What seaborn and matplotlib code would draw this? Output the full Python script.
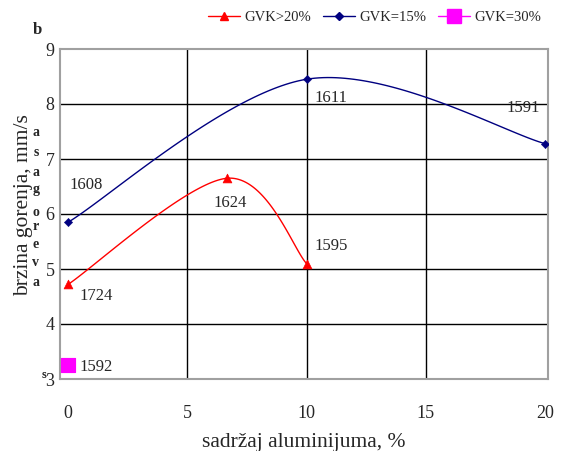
import numpy as np
import pandas as pd
import matplotlib
matplotlib.use("Agg")
import matplotlib.pyplot as plt
import seaborn as sns

# ---- data ----
x_gvk20 = [0, 6.67, 10]
y_gvk20 = [4.72, 6.65, 5.10]
lab_gvk20 = ["1724", "1624", "1595"]

x_gvk15 = [0, 10, 20]
y_gvk15 = [5.85, 8.45, 7.28]
lab_gvk15 = ["1608", "1611", "1591"]

x_gvk30 = [0]
y_gvk30 = [3.25]
lab_gvk30 = ["1592"]

series_names = ["GVK>20%", "GVK=15%", "GVK=30%"]
x_ticks = [0, 5, 10, 15, 20]
y_ticks = [3, 4, 5, 6, 7, 8, 9]

sns.set_style("white")
plt.rcParams["font.family"] = ["Liberation Serif", "DejaVu Serif"]


def smooth(xs, ys, n=60):
    """Excel-style smoothed line (Catmull-Rom Bezier) through given points."""
    P = np.column_stack([xs, ys]).astype(float)
    if len(P) < 2:
        return P[:, 0], P[:, 1]
    out = []
    for i in range(len(P) - 1):
        p0 = P[i - 1] if i > 0 else P[i]
        p1, p2 = P[i], P[i + 1]
        p3 = P[i + 2] if i + 2 < len(P) else P[i + 1]
        c1 = p1 + (p2 - p0) / 6.0
        c2 = p2 - (p3 - p1) / 6.0
        t = np.linspace(0, 1, n)[:, None]
        seg = ((1 - t) ** 3) * p1 + 3 * ((1 - t) ** 2) * t * c1 + 3 * (1 - t) * t ** 2 * c2 + t ** 3 * p2
        out.append(seg if i == 0 else seg[1:])
    S = np.vstack(out)
    return S[:, 0], S[:, 1]


fig = plt.figure(figsize=(5.63, 4.51), dpi=100)
ax = fig.add_axes([60 / 563, 1 - 379 / 451, 488 / 563, 330 / 451])

red, navy, mag = "#ff0000", "#000080", "#ff00ff"

# gridlines
for yv in y_ticks[1:-1]:
    ax.axhline(yv, color="black", lw=1.0, zorder=1)
for xv in x_ticks[1:-1]:
    ax.axvline(xv, color="black", lw=1.0, zorder=1)

# smoothed lines
sx, sy = smooth(x_gvk20, y_gvk20)
ax.plot(sx, sy, color=red, lw=1.0, zorder=3)
sx, sy = smooth(x_gvk15, y_gvk15)
ax.plot(sx, sy, color=navy, lw=1.0, zorder=3)

# markers via seaborn
df20 = pd.DataFrame({"x": x_gvk20, "y": y_gvk20})
df15 = pd.DataFrame({"x": x_gvk15, "y": y_gvk15})
df30 = pd.DataFrame({"x": x_gvk30, "y": y_gvk30})
sns.scatterplot(data=df20, x="x", y="y", marker="^", s=40, color=red, edgecolor=red, ax=ax, zorder=4)
sns.scatterplot(data=df15, x="x", y="y", marker="D", s=18, color=navy, edgecolor=navy, ax=ax, zorder=4)
sns.scatterplot(data=df30, x="x", y="y", marker="s", s=110, color=mag, edgecolor=mag, ax=ax, zorder=4)

# point labels
fs_lab = 12
offs20 = [((11, -12), "left"), ((3, -25), "center"), ((8, 18), "left")]
offs15 = [((1, 37), "left"), ((8, -19), "left"), ((-5, 36), "right")]
offs30 = [((11, -2), "left")]
for xs, ys, labs, offs in [(x_gvk20, y_gvk20, lab_gvk20, offs20),
                           (x_gvk15, y_gvk15, lab_gvk15, offs15),
                           (x_gvk30, y_gvk30, lab_gvk30, offs30)]:
    for xv, yv, lb, (off, ha) in zip(xs, ys, labs, offs):
        ax.annotate(lb, (xv, yv), xytext=off, textcoords="offset pixels",
                    ha=ha, va="center", fontsize=fs_lab, zorder=5)

ax.set_xlim(-0.34, 20.13)
ax.set_ylim(3, 9)
ax.set_xticks(x_ticks)
ax.set_yticks(y_ticks)
ax.set_xticklabels([str(v) for v in x_ticks], fontsize=13)
ax.set_yticklabels([str(v) for v in y_ticks], fontsize=13)
ax.tick_params(axis="x", direction="inout", length=9, width=1, color="black", pad=14)
ax.tick_params(axis="y", direction="in", length=5, width=1, color="black", pad=4)
for sp in ax.spines.values():
    sp.set_color("#a0a0a0")
    sp.set_linewidth(1.5)
    sp.set_visible(True)

ax.set_xlabel("sadržaj aluminijuma, %", fontsize=15.5, labelpad=8)
ax.set_ylabel("brzina gorenja, mm/s", fontsize=15.5, labelpad=4)
ax.yaxis.set_label_coords(-0.055, 0.527)

# legend
handles = [
    plt.Line2D([], [], color=red, lw=1.0, marker="^", markersize=6),
    plt.Line2D([], [], color=navy, lw=1.0, marker="D", markersize=4),
    plt.Line2D([], [], color=mag, lw=1.0, marker="s", markersize=10),
]
fig.legend(handles, series_names, loc="center right", bbox_to_anchor=(0.985, 1 - 17 / 451),
           ncol=3, frameon=False, fontsize=10.5, handlelength=2.2, handletextpad=0.3,
           columnspacing=0.8)

# stray overlapping text fragments from the original
fig.text(37 / 563, 1 - 30 / 451, "b", fontsize=12, fontweight="bold", ha="center", va="center")
stray = ["a", "s", "a", "g", "o", "r", "e", "v", "a"]
ys_px = [133, 153, 173, 190, 212, 227, 245, 262, 283]
for ch, yp in zip(stray, ys_px):
    fig.text(36 / 563, 1 - yp / 451, ch, fontsize=10, fontweight="bold", ha="center", va="center")
fig.text(44 / 563, 1 - 375 / 451, "s", fontsize=9, fontweight="bold", ha="center", va="center")

fig.savefig("out.png", dpi=100)
